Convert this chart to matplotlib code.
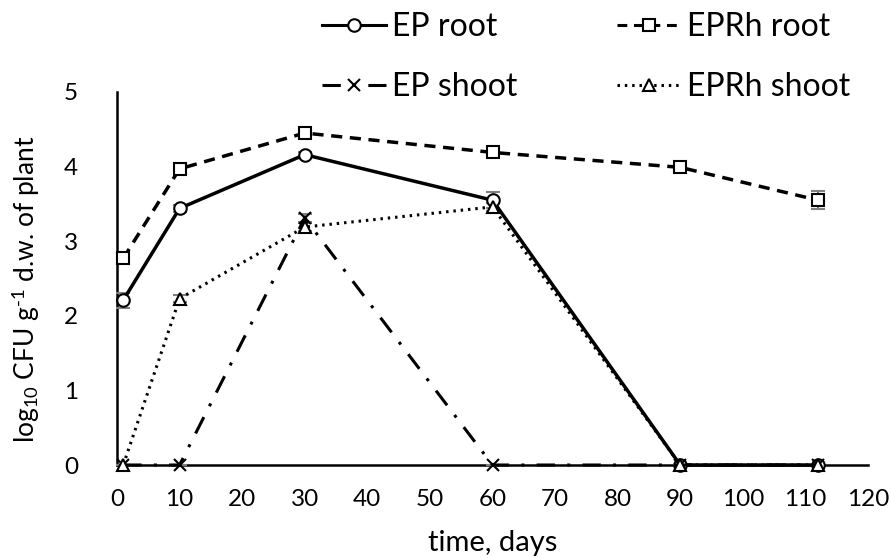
import matplotlib
matplotlib.use("Agg")
import matplotlib.pyplot as plt
from matplotlib.lines import Line2D

plt.rcParams['font.family'] = ['Lato', 'DejaVu Sans']
plt.rcParams['mathtext.fontset'] = 'custom'
plt.rcParams['mathtext.rm'] = 'Lato'
plt.rcParams['mathtext.it'] = 'Lato:italic'
plt.rcParams['mathtext.bf'] = 'Lato:bold'

days = [1, 10, 30, 60, 90, 112]
ep_root = [2.21, 3.44, 4.16, 3.55, 0, 0]
ep_root_err = [0.10, 0.05, 0.04, 0.11, 0, 0]
eprh_root = [2.77, 3.97, 4.45, 4.19, 3.99, 3.55]
eprh_root_err = [0.06, 0.06, 0.04, 0.04, 0.05, 0.12]
ep_shoot = [0, 0, 3.31, 0, 0, 0]
ep_shoot_err = [0, 0, 0.05, 0, 0, 0]
eprh_shoot = [0, 2.23, 3.19, 3.46, 0, 0]
eprh_shoot_err = [0, 0.05, 0.05, 0.05, 0, 0]

series_labels = ['EP root', 'EPRh root', 'EP shoot', 'EPRh shoot']
xticks = list(range(0, 121, 10))
yticks = [0, 1, 2, 3, 4, 5]

fig = plt.figure(figsize=(8.91, 5.58), dpi=100)
ax = fig.add_axes([117/891, 1-465/558, (868-117)/891, (465-92)/558])

fs = 17.5
mk = dict(markersize=9, markerfacecolor='white', markeredgecolor='black', markeredgewidth=1.5)
common = dict(color='black', ecolor='#808080', elinewidth=1.5, capsize=5, capthick=1.5,
              clip_on=False, **mk)

styles = [
    dict(linestyle='-', linewidth=2.5, marker='o'),
    dict(linestyle=(0, (3.2, 2.2)), linewidth=2.5, marker='s'),
    dict(linestyle=(0, (6, 4, 1, 4)), linewidth=2.2, marker='x'),
    dict(linestyle=(0, (0.8, 1.6)), linewidth=2.2, marker='^'),
]
data = [(ep_root, ep_root_err), (eprh_root, eprh_root_err),
        (ep_shoot, ep_shoot_err), (eprh_shoot, eprh_shoot_err)]

proxies = []
for (vals, err), st, lab in zip(data, styles, series_labels):
    ax.errorbar(days, vals, yerr=err, label=lab, zorder=4, **st, **common)
    pst = dict(st)
    pst['linewidth'] = 2.2
    proxies.append(Line2D([], [], color='black', **pst, **mk))

ax.set_xlim(0, 120)
ax.set_ylim(0, 5)
ax.set_xticks(xticks)
ax.set_yticks(yticks)
ax.tick_params(axis='both', length=0, labelsize=fs)
ax.tick_params(axis='y', pad=28)
ax.tick_params(axis='x', pad=17)
for s in ['top', 'right']:
    ax.spines[s].set_visible(False)
ax.spines['left'].set_linewidth(1.8)
ax.spines['bottom'].set_linewidth(1.8)

ax.set_xlabel('time, days', fontsize=21, labelpad=15)
ax.set_ylabel(r'log$_{10}$ CFU g$^{\text{-1}}$ d.w. of plant', fontsize=19)
ax.yaxis.set_label_coords(-0.1, 0.47)

order = [0, 2, 1, 3]
fig.legend([proxies[i] for i in order], [series_labels[i] for i in order],
           loc='upper left', bbox_to_anchor=(322/891, 1-12/558), ncol=2,
           frameon=False, fontsize=23, labelspacing=0.95, columnspacing=3.1,
           handlelength=2.0, handletextpad=0.2, borderpad=0, borderaxespad=0)

fig.savefig('out.png', dpi=100)
